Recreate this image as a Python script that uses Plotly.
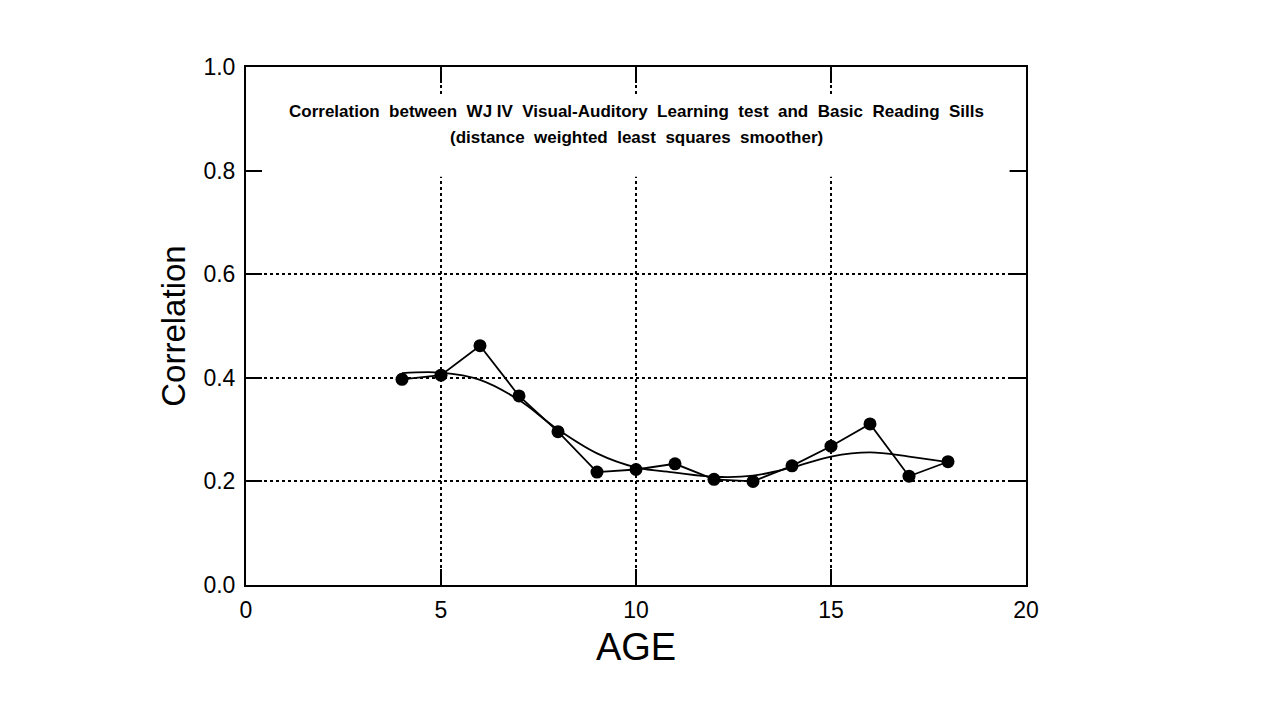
#!/usr/bin/env python3

import plotly.graph_objects as go

# observed correlations by age
ages = [4, 5, 6, 7, 8, 9, 10, 11, 12, 13, 14, 15, 16, 17, 18]
corr = [0.397, 0.405, 0.462, 0.365, 0.296, 0.218, 0.223, 0.234,
        0.204, 0.200, 0.230, 0.268, 0.311, 0.210, 0.238]

# distance weighted least squares smoother
smooth_ages = [4, 5, 6, 7, 8, 9, 10, 11, 12, 13, 14, 15, 16, 17, 18]
smooth_corr = [0.409, 0.410, 0.396, 0.357, 0.300, 0.254, 0.227, 0.217,
               0.209, 0.211, 0.227, 0.248, 0.256, 0.248, 0.237]

x_ticks = [0, 5, 10, 15, 20]
y_ticks = [0.0, 0.2, 0.4, 0.6, 0.8, 1.0]

TITLE_LINES = [
    "Correlation  between  WJ IV  Visual-Auditory  Learning  test  and  Basic  Reading  Sills",
    "(distance  weighted  least  squares  smoother)",
]

TICK_FONT = dict(family="Liberation Sans Narrow, Liberation Sans, Arial", size=23, color="black")


def main():
    fig = go.Figure()
    fig.add_trace(
        go.Scatter(
            x=smooth_ages,
            y=smooth_corr,
            mode="lines",
            line=dict(color="black", width=1.8, shape="spline", smoothing=1.0),
            name="smoother",
        )
    )
    fig.add_trace(
        go.Scatter(
            x=ages,
            y=corr,
            mode="lines+markers",
            line=dict(color="black", width=1.8),
            marker=dict(color="black", size=13),
            name="observed",
        )
    )

    axis_common = dict(
        showline=True,
        linecolor="black",
        linewidth=2,
        mirror="ticks",
        ticks="inside",
        ticklen=16,
        tickwidth=2,
        tickcolor="black",
        showgrid=True,
        gridcolor="black",
        gridwidth=1.5,
        griddash="dot",
        zeroline=False,
        tickfont=TICK_FONT,
    )

    fig.update_xaxes(
        range=[0, 20],
        tickvals=x_ticks,
        ticklabelstandoff=3,
        title=dict(text="AGE", font=dict(family="Liberation Sans, Arial", size=38, color="black"),
                   standoff=12),
        **axis_common,
    )
    fig.update_yaxes(
        range=[0, 1],
        tickvals=y_ticks,
        tickformat=".1f",
        ticklabelstandoff=4,
        title=dict(text="Correlation", font=dict(family="Liberation Sans, Arial", size=33, color="black"),
                   standoff=8),
        **axis_common,
    )

    # white box behind the title hides the gridlines there
    fig.add_shape(
        type="rect", xref="paper", yref="paper",
        x0=0.021, x1=0.979, y0=0.788, y1=0.942,
        fillcolor="white", line=dict(width=0), layer="above",
    )
    for text, ypos in zip(TITLE_LINES, [0.915, 0.863]):
        fig.add_annotation(
            text=text,
            xref="paper", yref="paper",
            x=0.5, y=ypos,
            xanchor="center", yanchor="middle",
            showarrow=False,
            font=dict(family="Liberation Sans, Arial", size=17, color="black", weight="bold"),
        )

    fig.update_layout(
        width=1280,
        height=720,
        margin=dict(l=238, r=262, t=59, b=143),
        paper_bgcolor="white",
        plot_bgcolor="white",
        showlegend=False,
    )
    fig.write_html("out.html")


if __name__ == "__main__":
    main()
